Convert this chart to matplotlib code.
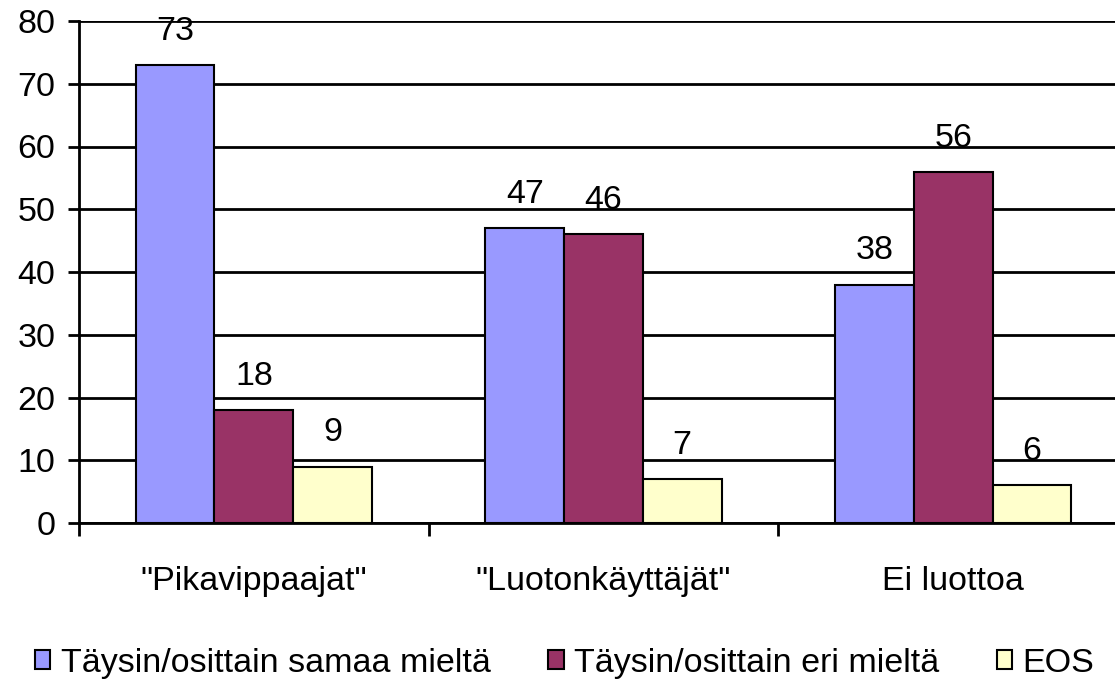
import matplotlib
matplotlib.use("Agg")
import matplotlib.pyplot as plt
from matplotlib.patches import Patch
import numpy as np

plt.rcParams['font.family'] = ['Liberation Sans', 'DejaVu Sans']

categories = ['"Pikavippaajat"', '"Luotonkäyttäjät"', 'Ei luottoa']
series_names = ['Täysin/osittain samaa mieltä', 'Täysin/osittain eri mieltä', 'EOS']
samaa = [73, 47, 38]
eri = [18, 46, 56]
eos = [9, 7, 6]
colors = ['#9999FF', '#993366', '#FFFFCC']

FS = 24.5

fig = plt.figure(figsize=(11.15, 6.88), dpi=100)
ax = fig.add_axes([79/1115, 165/688, 1049/1115, 502/688])

x = np.arange(len(categories))
w = 0.225
for i, (vals, col) in enumerate(zip([samaa, eri, eos], colors)):
    pos = x + (i - 1) * w
    ax.bar(pos, vals, width=w, color=col, edgecolor='black', linewidth=1.5, zorder=3)
    for p, v in zip(pos, vals):
        ax.annotate(str(v), (p, v), xytext=(0, 13), textcoords='offset points',
                    ha='center', va='bottom', fontsize=FS, zorder=4)

ax.set_xlim(-0.5, 2.5)
ax.set_ylim(0, 80)
ax.set_yticks(range(0, 81, 10))
ax.yaxis.grid(True, color='black', linewidth=2, zorder=0)
ax.set_axisbelow(True)
ax.tick_params(axis='y', direction='out', length=8, width=2, labelsize=FS, pad=9)
ax.set_xticks(x)
ax.set_xticklabels(categories)
ax.tick_params(axis='x', which='major', length=0, labelsize=FS, pad=31)
ax.set_xticks([-0.5, 0.5, 1.5, 2.5], minor=True)
ax.tick_params(axis='x', which='minor', direction='out', length=9, width=2)
for s in ['top', 'right']:
    ax.spines[s].set_visible(False)
for s in ['left', 'bottom']:
    ax.spines[s].set_linewidth(2)

handles = [Patch(facecolor=c, edgecolor='black', linewidth=1.5) for c in colors]
fig.legend(handles, series_names, loc='center left', bbox_to_anchor=(35/1115, 0.036),
           ncol=3, frameon=False, fontsize=FS, handlelength=0.45, handleheight=0.45,
           handletextpad=0.3, columnspacing=1.7, borderaxespad=0, borderpad=0)

fig.savefig('out.png', dpi=100)
